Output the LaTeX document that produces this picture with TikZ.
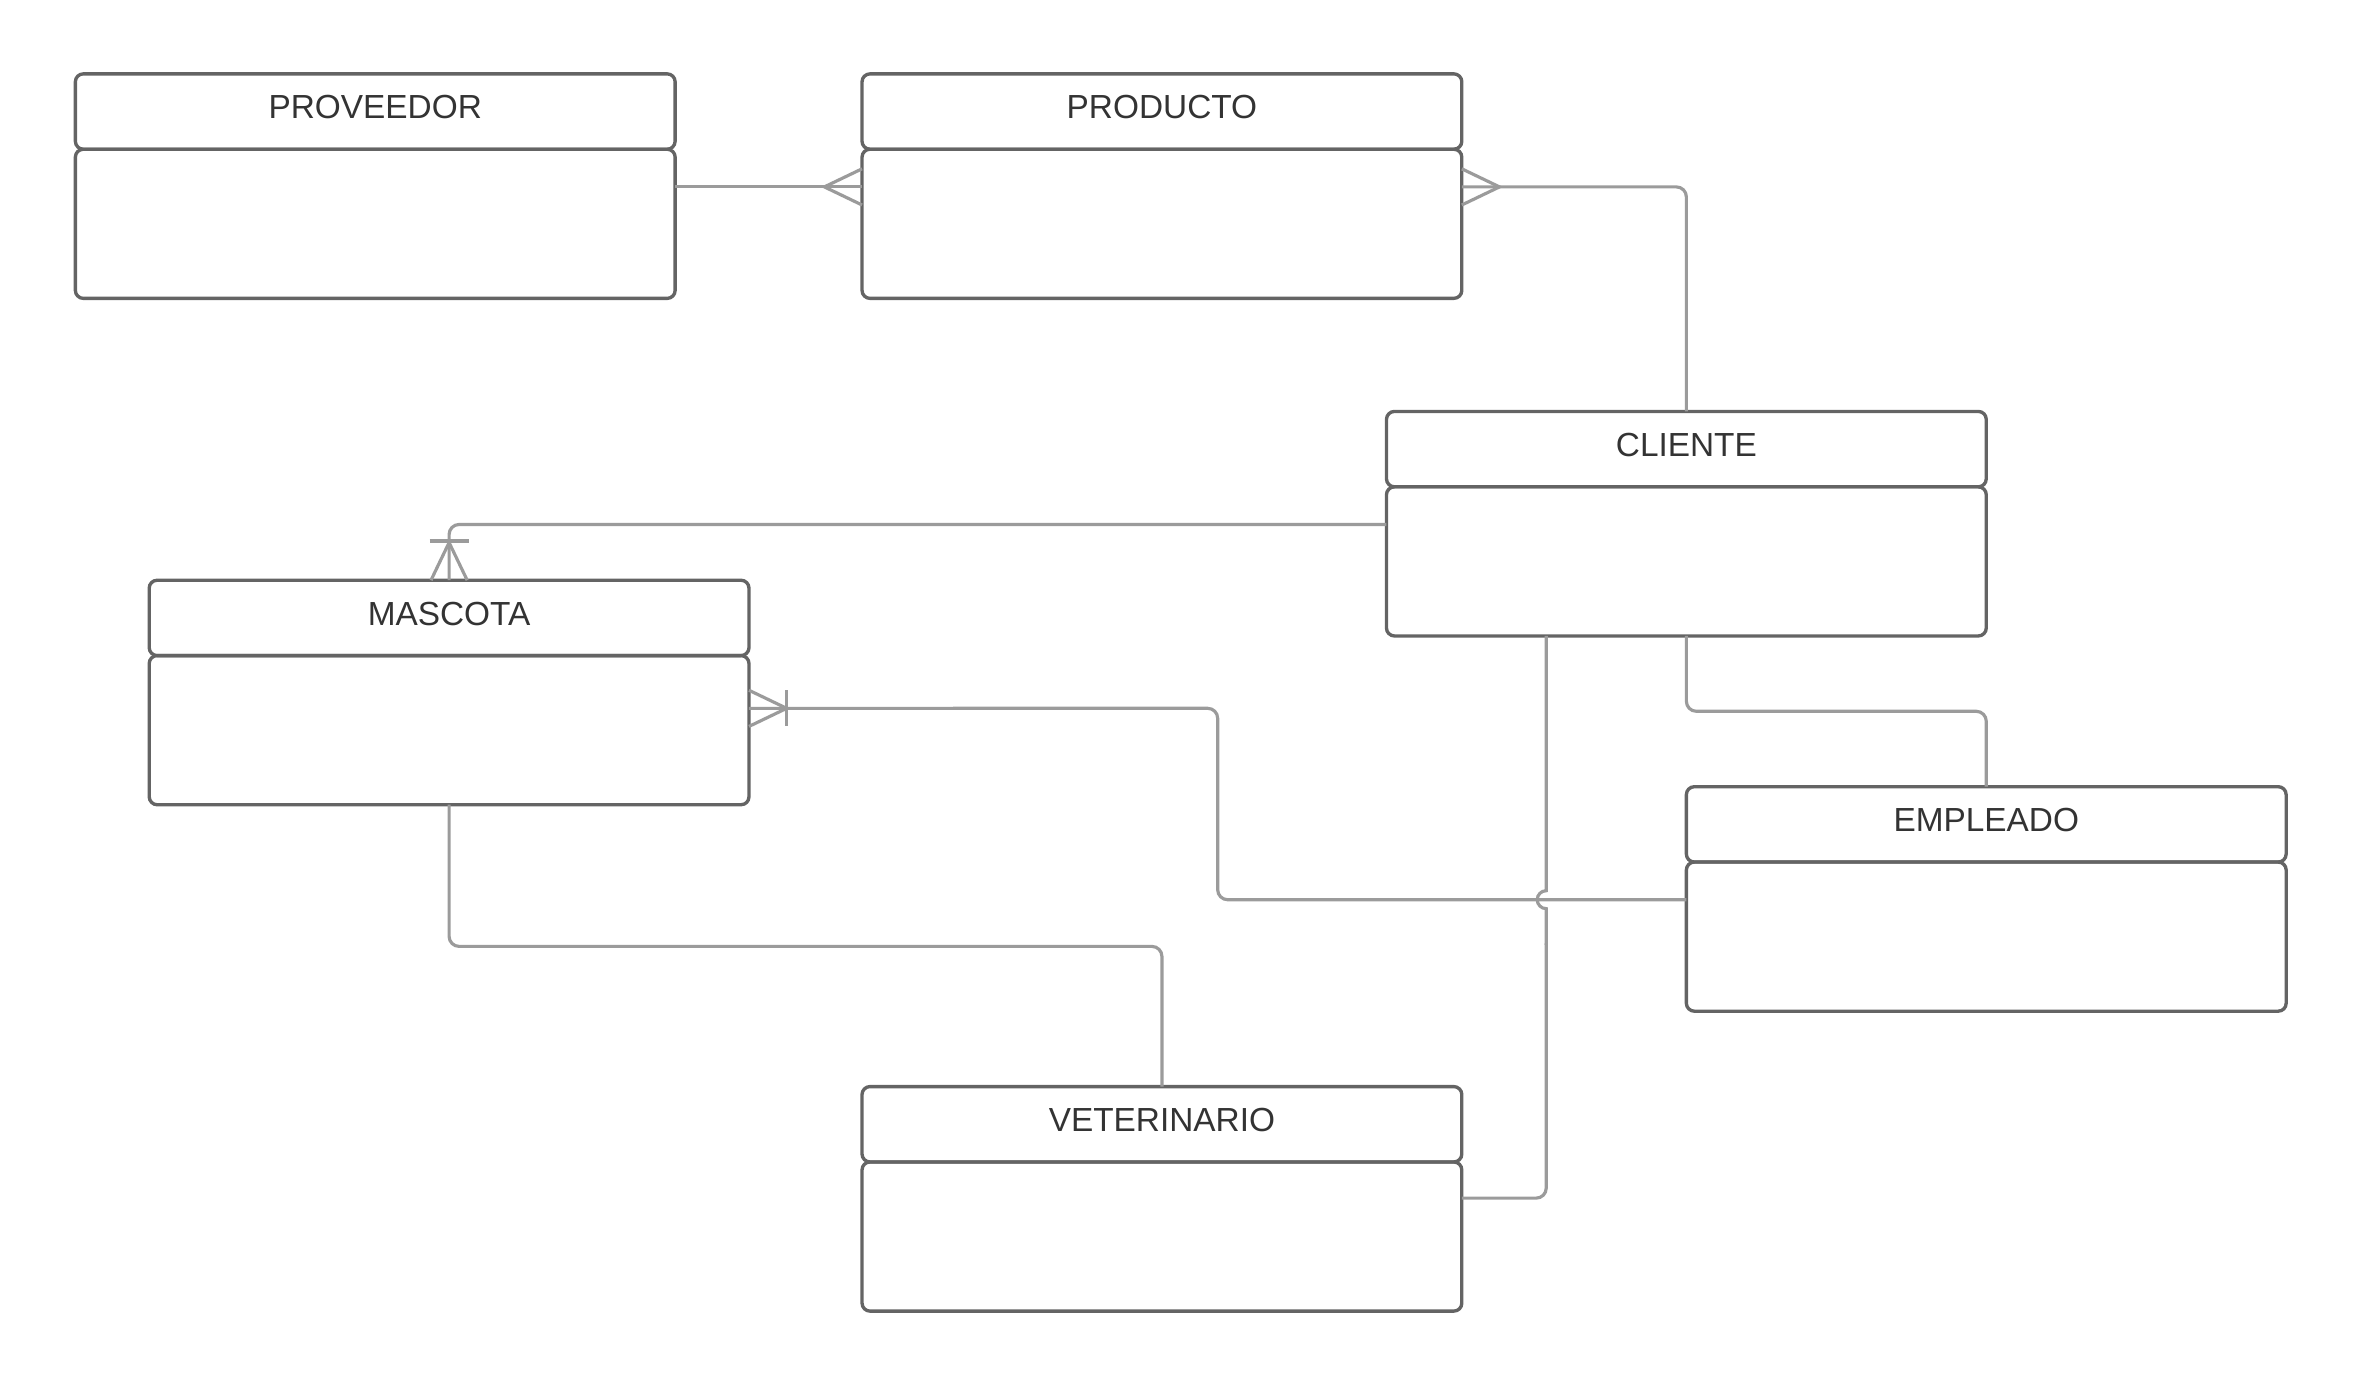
\documentclass[tikz,border=0pt]{standalone}
\usepackage{fontspec}
\setmainfont{Liberation Sans}
\usetikzlibrary{calc}
\definecolor{boxgray}{HTML}{646464}
\definecolor{relgray}{HTML}{9B9B9B}
\definecolor{txtgray}{HTML}{333333}
\tikzset{
    ehead/.style={draw=boxgray, line width=0.95pt, rounded corners=0.08cm, minimum width=6cm, minimum height=0.754cm, anchor=north west, inner sep=0pt, outer sep=0pt, text=txtgray, font=\fontsize{9.5}{11}\selectfont, text depth=0.09cm},
    ebody/.style={draw=boxgray, line width=0.95pt, rounded corners=0.08cm, minimum width=6cm, minimum height=1.492cm, anchor=north west, inner sep=0pt, outer sep=0pt},
    rel/.style={draw=relgray, line width=0.9pt, rounded corners=0.1cm}
}
\begin{document}
\begin{tikzpicture}[x=0.01507cm, y=-0.01507cm]
    \useasboundingbox (0,0) rectangle (1568,921);
    % entities
    \foreach \name/\x/\y/\title in {prov/50/49/PROVEEDOR, prod/572/49/PRODUCTO, cli/920/273/CLIENTE, masc/99/385/MASCOTA, emp/1119/522/EMPLEADO, vet/572/721/VETERINARIO}{
        \node[ehead] (\name-h) at (\x,\y) {\title};
        \node[ebody] (\name) at (\name-h.south west) {};
    }
    % connection points
    \coordinate (pv-r) at ($(prov.north east)+(0,25)$);
    \coordinate (pd-l) at ($(prod.north west)+(0,25)$);
    \coordinate (pd-r) at ($(prod.north east)+(0,25)$);
    \coordinate (cl-l) at ($(cli.north west)+(0,25)$);
    \coordinate (cl-b) at ($(cli.south west)+(106,0)$);
    \coordinate (ms-r) at ($(masc.north east)+(0,35)$);
    \coordinate (em-l) at ($(emp.north west)+(0,25)$);
    \coordinate (vt-r) at ($(vet.north east)+(0,24)$);
    \coordinate (bend) at (808,470);
    % relations
    \draw[rel] (pv-r) -- (pd-l);
    \draw[rel] (pd-r) -| (cli-h.north);
    \draw[rel] (cl-l) -| (masc-h.north);
    \draw[rel] (em-l) -| (bend) -- (ms-r);
    \draw[rel] (cli.south) -- ++(0,50) -| (emp-h.north);
    \draw[rel, sharp corners] (cl-b) -- ($(cl-b |- em-l)+(0,-6)$) arc[start angle=90, end angle=270, radius=0.09cm] -- ($(cl-b |- em-l)+(0,30)$);
    \draw[rel] ($(cl-b |- em-l)+(0,29)$) |- (vt-r);
    \draw[rel] (masc.south) -- ++(0,94) -| (vet-h.north);
    % crow's feet
    \draw[rel, rounded corners=0] ($(pd-l)+(0,-12)$) -- ($(pd-l)+(-25,0)$) -- ($(pd-l)+(0,12)$);
    \draw[rel, rounded corners=0] ($(pd-r)+(0,-12)$) -- ($(pd-r)+(25,0)$) -- ($(pd-r)+(0,12)$);
    \draw[rel, rounded corners=0] ($(masc-h.north)+(-12,0)$) -- ($(masc-h.north)+(0,-25)$) -- ($(masc-h.north)+(12,0)$);
    \draw[rel] ($(masc-h.north)+(-13,-26)$) -- ($(masc-h.north)+(13,-26)$);
    \draw[rel, rounded corners=0] ($(ms-r)+(0,-12)$) -- ($(ms-r)+(25,0)$) -- ($(ms-r)+(0,12)$);
    \draw[rel] ($(ms-r)+(25,-12)$) -- ($(ms-r)+(25,12)$);
\end{tikzpicture}
\end{document}
